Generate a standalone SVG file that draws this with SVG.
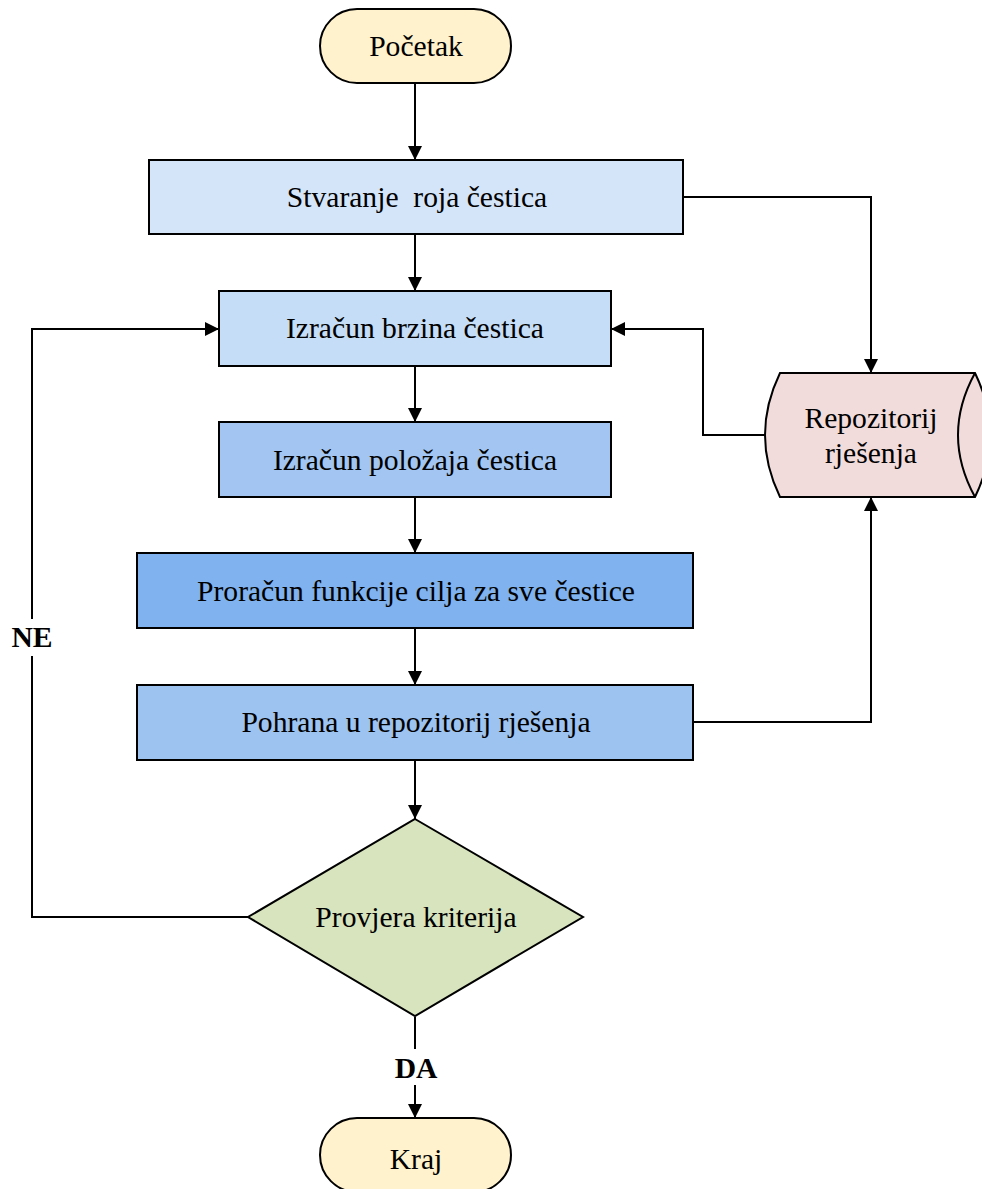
<svg xmlns="http://www.w3.org/2000/svg" width="982" height="1189" viewBox="0 0 982 1189" font-family="'Liberation Serif', 'DejaVu Serif', serif">
<style>
.s{stroke:#000;stroke-width:2}
text{font-family:'Liberation Serif','DejaVu Serif',serif;font-size:29.6px;fill:#000;text-anchor:middle}
.b{font-weight:bold}
.c{fill:none;stroke:#000;stroke-width:2}
</style>
<defs>
<marker id="ah" viewBox="0 0 14 14" refX="14" refY="7" markerWidth="14" markerHeight="14" markerUnits="userSpaceOnUse" orient="auto">
<path d="M0,0 L14,7 L0,14 Z" fill="#000"/>
</marker>
</defs>
<rect width="982" height="1189" fill="#fff"/>
<g id="connectors">
<path class="c" d="M415,83 V160" marker-end="url(#ah)"/>
<path class="c" d="M415,234 V291" marker-end="url(#ah)"/>
<path class="c" d="M415,366 V422" marker-end="url(#ah)"/>
<path class="c" d="M415,497 V553" marker-end="url(#ah)"/>
<path class="c" d="M415,628 V685" marker-end="url(#ah)"/>
<path class="c" d="M415,760 V819" marker-end="url(#ah)"/>
<path class="c" d="M415,1017 V1049"/>
<path class="c" d="M415,1085 V1118" marker-end="url(#ah)"/>
<path class="c" d="M248,917 H32 V656"/>
<path class="c" d="M32,619 V329 H219" marker-end="url(#ah)"/>
<path class="c" d="M683,197 H871 V373" marker-end="url(#ah)"/>
<path class="c" d="M765,435 H703 V329 H611" marker-end="url(#ah)"/>
<path class="c" d="M693,722 H871 V497" marker-end="url(#ah)"/>
<text class="b" x="32" y="647">NE</text>
<text class="b" x="416" y="1078">DA</text>
</g>
<g id="start">
<rect class="s" x="320" y="9" width="191" height="74" rx="37" fill="#FFF2CC"/>
<text x="416" y="56">Početak</text>
</g>
<g id="create">
<rect class="s" x="149" y="160" width="534" height="74" fill="#D5E5F9"/>
<text x="417" y="207" xml:space="preserve">Stvaranje  roja čestica</text>
</g>
<g id="velocity">
<rect class="s" x="219" y="291" width="392" height="75" fill="#C5DDF7"/>
<text x="415" y="338">Izračun brzina čestica</text>
</g>
<g id="position">
<rect class="s" x="219" y="422" width="392" height="75" fill="#A2C6F1"/>
<text x="415" y="470">Izračun položaja čestica</text>
</g>
<g id="objective">
<rect class="s" x="137" y="553" width="556" height="75" fill="#7FB2EE"/>
<text x="416" y="601">Proračun funkcije cilja za sve čestice</text>
</g>
<g id="store">
<rect class="s" x="137" y="685" width="556" height="75" fill="#9DC3F1"/>
<text x="416" y="732">Pohrana u repozitorij rješenja</text>
</g>
<g id="check">
<polygon class="s" points="415,819 583,917 415,1016 248,917" fill="#D7E4BD"/>
<text x="416" y="927">Provjera kriterija</text>
</g>
<g id="end">
<rect class="s" x="320" y="1118" width="191" height="74" rx="37" fill="#FFF2CC"/>
<text x="416" y="1169">Kraj</text>
</g>
<g id="repository">
<path class="s" d="M780,373 H975 Q1005,435 975,497 H780 Q750,435 780,373 Z" fill="#F2DCDB"/>
<path class="c" d="M975,373 Q941,435 975,497"/>
<text x="871" y="428">Repozitorij</text>
<text x="871" y="463">rješenja</text>
</g>
</svg>
